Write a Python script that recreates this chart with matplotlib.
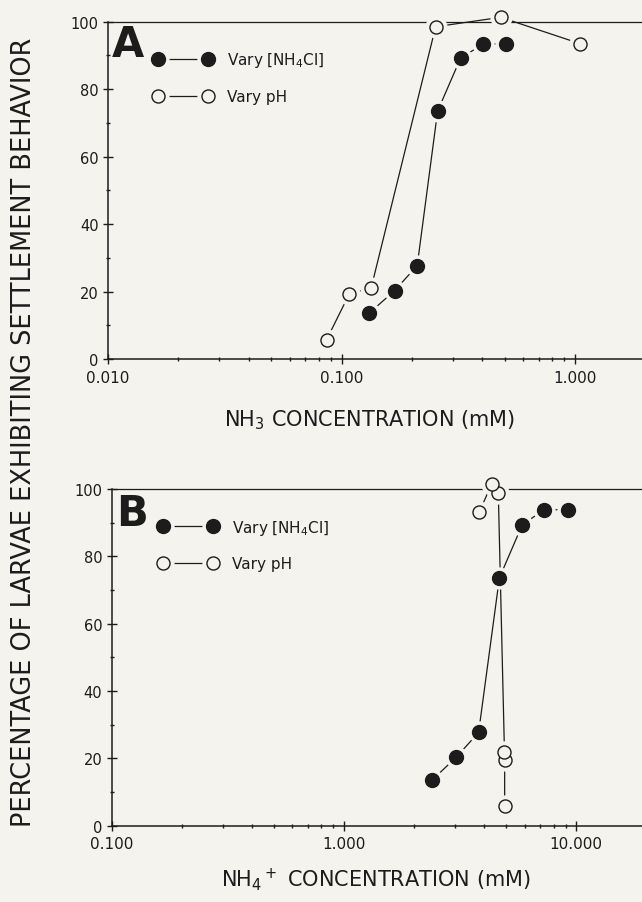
import matplotlib
matplotlib.use("Agg")
import matplotlib.pyplot as plt
from matplotlib.lines import Line2D
from matplotlib.legend_handler import HandlerTuple
from matplotlib.ticker import FixedLocator, NullFormatter

# ---------------- data ----------------
a_nh4cl_x = [0.1315, 0.169, 0.211, 0.258, 0.324, 0.404, 0.507]
a_nh4cl_y = [13.6, 20.3, 27.7, 73.5, 89.3, 93.3, 93.5]
a_ph_x = [0.0863, 0.108, 0.134, 0.253, 0.481, 1.05]
a_ph_y = [5.7, 19.3, 21.1, 98.5, 101.3, 93.5]

b_nh4cl_x = [2.40, 3.04, 3.80, 4.67, 5.86, 7.27, 9.22]
b_nh4cl_y = [13.6, 20.3, 27.7, 73.6, 89.4, 93.8, 93.9]
b_ph_x = [4.92, 4.92, 4.91, 4.62, 4.33, 3.83]
b_ph_y = [5.9, 19.6, 22.0, 98.7, 101.5, 93.3]

y_ticks = [0, 20, 40, 60, 80, 100]
a_xticks = [0.01, 0.1, 1.0]
a_xticklabels = ["0.010", "0.100", "1.000"]
b_xticks = [0.1, 1.0, 10.0]
b_xticklabels = ["0.100", "1.000", "10.000"]

series_labels = ["Vary [NH$_4$Cl]", "Vary pH"]
panel_letters = ["A", "B"]
xlabels = ["NH$_3$ CONCENTRATION (mM)", "NH$_4$$^+$ CONCENTRATION (mM)"]
ylabel = "PERCENTAGE OF LARVAE EXHIBITING SETTLEMENT BEHAVIOR"

# ---------------- style ----------------
BG = "#f4f3ee"
INK = "#1c1c1c"
MS = 10.0
HALO = 16.0

plt.rcParams["font.family"] = ["DejaVu Sans"]
fig = plt.figure(figsize=(6.42, 9.03), dpi=100, facecolor=BG)

axA = fig.add_axes([108 / 642, (903 - 360) / 903, 534 / 642, 337.3 / 903])
axB = fig.add_axes([111.7 / 642, (903 - 826.7) / 903, 530.3 / 642, 336.7 / 903])


def draw_series(ax, x, y, filled, z):
    face = INK if filled else BG
    ax.plot(x, y, color=INK, lw=0.9, zorder=z, clip_on=False, solid_capstyle="butt")
    ax.plot(x, y, ls="none", marker="o", ms=HALO, mfc=BG, mec="none", zorder=z + 0.1, clip_on=False)
    ax.plot(x, y, ls="none", marker="o", ms=MS if filled else MS - 0.6, mfc=face, mec=INK,
            mew=1.0, zorder=z + 0.2, clip_on=False)


def style_axes(ax, xlim, xticks, xticklabels, letter, letter_y, xlabel, xlab_pos, leg_anchor):
    ax.set_facecolor(BG)
    ax.set_xscale("log")
    ax.set_xlim(*xlim)
    ax.set_ylim(0, 100)
    for s in ["left", "bottom", "top"]:
        ax.spines[s].set_linewidth(1.1)
        ax.spines[s].set_color(INK)
    ax.spines["top"].set_linewidth(0.9)
    ax.spines["right"].set_visible(False)
    ax.xaxis.set_major_locator(FixedLocator(xticks))
    ax.set_xticklabels(xticklabels)
    minors = []
    for d in xticks:
        minors += [d * k for k in range(2, 10)]
    ax.xaxis.set_minor_locator(FixedLocator(minors))
    ax.xaxis.set_minor_formatter(NullFormatter())
    ax.yaxis.set_major_locator(FixedLocator(y_ticks))
    ax.yaxis.set_minor_locator(FixedLocator([10, 30, 50, 70, 90]))
    ax.yaxis.set_minor_formatter(NullFormatter())
    ax.tick_params(axis="both", which="major", direction="inout", length=7.5, width=1.0,
                   color=INK, labelcolor=INK)
    ax.tick_params(axis="both", which="minor", direction="inout", length=3.5, width=1.0, color=INK)
    ax.tick_params(axis="x", which="major", labelsize=11, pad=4)
    ax.tick_params(axis="y", which="major", labelsize=10.5, pad=3)
    ax.text(0.008, letter_y, letter, transform=ax.transAxes, fontsize=30, fontweight="bold",
            color=INK, ha="left", va="top")
    ax.set_xlabel(xlabel, fontsize=15, color=INK, va="center")
    ax.xaxis.set_label_coords(*xlab_pos)

    h_fill = (Line2D([], [], color=INK, lw=0.9),
              Line2D([], [], ls="none", marker="o", ms=HALO, mfc=BG, mec="none"),
              Line2D([], [], ls="none", marker="o", ms=MS, mfc=INK, mec=INK, mew=1.0))
    h_open = (Line2D([], [], color=INK, lw=0.9),
              Line2D([], [], ls="none", marker="o", ms=HALO, mfc=BG, mec="none"),
              Line2D([], [], ls="none", marker="o", ms=MS - 0.6, mfc=BG, mec=INK, mew=1.0))
    ax.legend([h_fill, h_open], series_labels, handler_map={tuple: HandlerTuple(ndivide=1, pad=0)},
              numpoints=2, frameon=False, fontsize=11, loc="upper left",
              bbox_to_anchor=leg_anchor, borderpad=0, borderaxespad=0,
              handlelength=3.86, handletextpad=0.94, labelspacing=1.3, labelcolor=INK)


draw_series(axA, a_ph_x, a_ph_y, False, 3.0)
draw_series(axA, a_nh4cl_x, a_nh4cl_y, True, 4.0)
draw_series(axB, b_ph_x, b_ph_y, False, 3.0)
draw_series(axB, b_nh4cl_x, b_nh4cl_y, True, 4.0)

style_axes(axA, (0.01, 1.936), a_xticks, a_xticklabels, panel_letters[0], 0.995,
           xlabels[0], (0.49, -0.178), (0.085, 0.915))
style_axes(axB, (0.1, 19.2), b_xticks, b_xticklabels, panel_letters[1], 0.99,
           xlabels[1], (0.498, -0.158), (0.088, 0.915))

# shared y label, fitted to the span of the two panels
yl = fig.text(24 / 642, (903 - 432.5) / 903, ylabel, rotation=90, ha="center", va="center",
              fontsize=20, color=INK, family=["Liberation Sans Narrow", "DejaVu Sans"])
fig.canvas.draw()
r = fig.canvas.get_renderer()
bb = yl.get_window_extent(r)
yl.set_fontsize(20 * 791 / bb.height)

fig.savefig("out.png", dpi=100, facecolor=BG)
